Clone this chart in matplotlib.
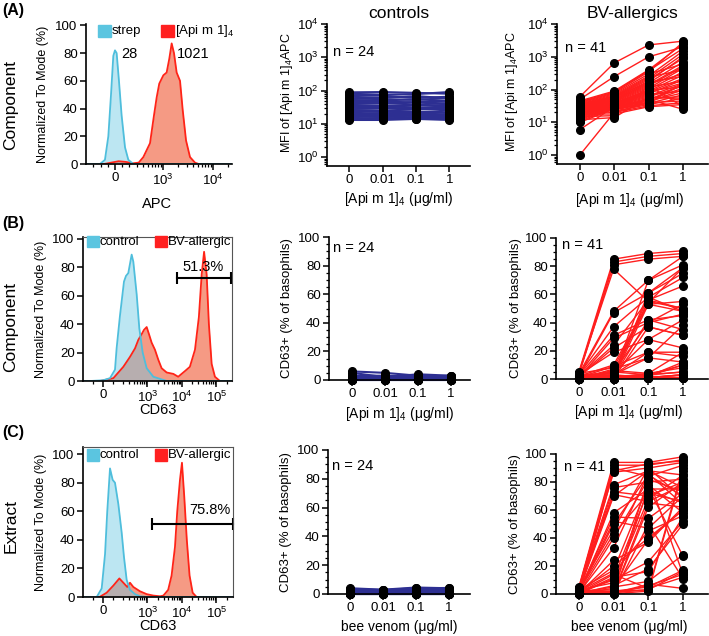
import matplotlib
matplotlib.use("Agg")
import matplotlib.pyplot as plt
from matplotlib.patches import Rectangle
from matplotlib.ticker import FixedLocator, MultipleLocator, LogLocator, NullFormatter

plt.rcParams['font.family'] = ['Liberation Sans', 'DejaVu Sans']
plt.rcParams['mathtext.fontset'] = 'custom'
plt.rcParams['mathtext.rm'] = 'Liberation Sans'
plt.rcParams['mathtext.it'] = 'Liberation Sans:italic'
plt.rcParams['mathtext.bf'] = 'Liberation Sans:bold'
plt.rcParams['font.size'] = 9

# ---- histogram data (fluorescence, % of mode) ----
A_strep_x = [-420, -208, -139, -92, -55, -23, 0, 23, 55, 92, 139, 185, 254, 24000]
A_strep_y = [0, 0, 3, 20, 50, 78, 82, 80, 60, 35, 12, 3, 0, 0]
A_api_x = [-420, -150, -50, 50, 150, 250, 330, 408, 555, 666, 754, 850, 1026, 1194, 1350,
           1504, 1674, 1893, 2210, 2500, 2915, 3500, 4400, 5200, 24000]
A_api_y = [0, 0, 1, 2, 1.5, 0.5, 1, 5, 15, 35, 48, 58, 64, 66, 76, 87, 80, 66, 60, 39, 17, 5, 1, 0, 0]

B_ctrl_x = [-197, -128, 0, 69, 118, 134, 167, 209, 239, 279, 349, 390, 488, 582, 728, 951, 1483, 3614, 283000]
B_ctrl_y = [0, 0, 0.5, 2, 8, 23, 46, 70, 74, 76, 89, 84, 61, 37, 20, 9, 3, 0, 0]
B_bv_x = [-197, -30, 102, 200, 312, 437, 545, 681, 794, 951, 1109, 1325, 1655, 2065, 2580, 3614,
          5650, 7800, 12270, 17000, 23900, 31000, 37400, 43900, 52100, 60500, 72800, 90600, 126000, 283000]
B_bv_y = [0, 0, 2, 10, 17, 23, 29, 33, 36, 38, 33, 27, 22, 15, 9, 6, 5, 3, 7, 10, 22, 45, 75, 91,
          75, 40, 12, 3, 0, 0]

C_ctrl_x = [-197, -62, -13, 20, 42, 69, 95, 118, 151, 184, 209, 250, 312, 437, 608, 951, 303000]
C_ctrl_y = [0, 0, 6, 30, 60, 90, 82, 80, 65, 45, 28, 12, 5, 2, 0.5, 0, 0]
C_bv_x = [-197, -34, 36, 102, 161, 200, 261, 312, 391, 608, 951, 1485, 2310, 2900, 4000, 5020,
          6290, 7330, 8790, 10040, 11720, 13870, 16680, 20500, 26700, 303000]
C_bv_y = [0, 0, 3, 8, 13, 10, 7, 10, 7, 4, 2, 1, 0.5, 1, 5, 15, 35, 60, 82, 94, 70, 40, 15, 3, 0, 0]

# ---- dose response data ----
doses = ['0', '0.01', '0.1', '1']
xpos = [0, 1, 2, 3]

ctrlA_0 = [88, 80, 72, 65, 58, 52, 47, 43, 40, 37, 34, 31, 28, 26, 24, 22, 20, 19, 18, 17, 16, 15, 14, 13]
ctrlA_001 = [90, 75, 70, 60, 55, 50, 46, 41, 42, 35, 33, 30, 29, 25, 23, 24, 21, 18, 19, 16, 17, 14, 15, 13]
ctrlA_01 = [85, 78, 60, 68, 52, 55, 44, 45, 38, 36, 35, 29, 30, 27, 22, 23, 20, 20, 17, 18, 15, 16, 14, 14]
ctrlA_1 = [80, 90, 65, 58, 60, 48, 50, 40, 42, 33, 37, 32, 27, 28, 25, 21, 22, 18, 19, 16, 17, 15, 14, 13]

bvA_0 = [60, 50, 45, 42, 40, 38, 36, 35, 33, 32, 31, 30, 29, 28, 27, 26, 25, 24, 23, 22, 21, 20, 19, 18,
         17, 16, 15, 14, 13, 12, 11, 10, 35, 30, 25, 22, 18, 15, 12, 6, 1]
bvA_001 = [650, 250, 90, 85, 80, 75, 70, 65, 62, 60, 58, 55, 52, 50, 48, 46, 44, 42, 40, 38, 37, 36, 35,
           34, 33, 32, 31, 30, 29, 28, 27, 26, 25, 24, 22, 20, 18, 16, 14, 30, 20]
bvA_01 = [2300, 1000, 400, 380, 350, 300, 260, 240, 220, 200, 180, 170, 160, 150, 140, 130, 120, 110, 100,
          95, 90, 85, 80, 75, 70, 65, 60, 55, 50, 48, 45, 42, 40, 38, 35, 32, 30, 130, 60, 50, 40]
bvA_1 = [3000, 2000, 2500, 1800, 2800, 600, 1500, 400, 1200, 900, 1000, 250, 700, 300, 550, 500, 180, 450,
         350, 120, 280, 220, 160, 200, 90, 150, 130, 60, 110, 140, 80, 100, 45, 70, 55, 40, 35, 30, 50, 25, 150]

ctrlB_0 = [6, 5, 3, 2.5, 2, 2, 1.8, 1.5, 1.5, 1.2, 1, 1, 0.8, 0.8, 0.6, 0.5, 0.5, 0.4, 0.3, 0.3, 0.2, 0.2, 0.1, 0.1]
ctrlB_001 = [5, 2, 3, 2.5, 1.8, 2, 1.5, 1.5, 1.2, 1.0, 1, 0.8, 0.8, 0.6, 0.5, 0.5, 0.4, 0.4, 0.3, 0.2, 0.2, 0.1, 0.1, 0.1]
ctrlB_01 = [3, 4, 2.5, 2, 2, 1.5, 1.8, 1.2, 1.0, 1.0, 0.8, 0.8, 0.6, 0.5, 0.5, 0.4, 0.4, 0.3, 0.3, 0.2, 0.2, 0.1, 0.1, 0.1]
ctrlB_1 = [2, 3, 3, 2.5, 1.8, 1.5, 1.5, 1.2, 1.0, 1.0, 0.8, 0.6, 0.6, 0.5, 0.5, 0.4, 0.3, 0.3, 0.2, 0.2, 0.1, 0.1, 0.1, 0.1]

bvB_0 = [5, 4, 3, 4.5, 3.5, 2, 3, 2.5, 1, 2, 1.5, 3, 2, 1, 4, 0.5, 1, 2, 0.5, 1.5, 3, 0.5, 1, 2, 0.3,
         2.5, 3.5, 0.2, 1.5, 1, 0.3, 2, 1, 0.5, 0.8, 0.2, 0.5, 1.2, 0.3, 0.6, 0.1]
bvB_001 = [85, 83, 81, 78, 48, 47, 37, 31, 29, 24, 22, 19, 10, 9, 8, 7, 6, 5, 5, 4, 4, 3, 3, 3, 2, 2, 2,
           1.5, 1.5, 1, 1, 1, 0.8, 0.8, 0.5, 0.5, 0.5, 0.3, 0.3, 0.2, 0.1]
bvB_01 = [89, 87, 85, 55, 70, 61, 58, 42, 40, 56, 37, 28, 54, 19, 53, 15, 4, 40, 3, 28, 58, 1, 19, 15, 3,
          56, 70, 2, 42, 4, 1, 61, 53, 2, 3, 1, 0.5, 37, 1, 2, 0.5]
bvB_1 = [91, 89, 87, 50, 81, 75, 72, 35, 46, 66, 31, 22, 79, 16, 55, 12, 8, 53, 5, 42, 48, 3, 19, 38, 10,
         50, 87, 1, 45, 19, 3, 79, 48, 10, 5, 1, 1, 31, 3, 12, 1]

ctrlC_0 = [4, 3.5, 3, 2.5, 2.2, 2, 1.8, 1.5, 1.3, 1.2, 1, 1, 0.8, 0.7, 0.6, 0.5, 0.5, 0.4, 0.3, 0.3, 0.2, 0.2, 0.1, 0.1]
ctrlC_001 = [3, 2.8, 2.5, 2.2, 2, 1.8, 1.5, 1.5, 1.2, 1, 1, 0.8, 0.8, 0.6, 0.5, 0.5, 0.4, 0.4, 0.3, 0.2, 0.2, 0.1, 0.1, 0.1]
ctrlC_01 = [4.5, 4, 3.5, 3, 2.5, 2.2, 2, 1.8, 1.5, 1.2, 1, 1, 0.8, 0.8, 0.6, 0.5, 0.5, 0.4, 0.3, 0.3, 0.2, 0.2, 0.1, 0.1]
ctrlC_1 = [4, 4.2, 3.5, 3, 2.5, 2.2, 2, 1.8, 1.5, 1.2, 1, 1, 0.8, 0.7, 0.6, 0.5, 0.5, 0.4, 0.3, 0.3, 0.2, 0.2, 0.1, 0.1]

bvC_0 = [5, 4, 4.5, 3, 3.5, 2, 2.5, 3, 1, 2, 1.5, 4, 2, 1, 0.5, 1, 3, 2, 0.5, 1.5, 3, 0.5, 1, 2, 0.3,
         2.5, 3.5, 0.2, 1.5, 1, 0.3, 2, 1, 0.5, 0.8, 0.2, 0.5, 1.2, 0.3, 0.6, 0.1]
bvC_001 = [94, 92, 90, 87, 78, 76, 73, 71, 58, 55, 52, 46, 43, 33, 24, 20, 17, 15, 12, 10, 8, 6, 5, 3, 2,
           1, 1, 0.5, 0.5, 0.3, 88, 70, 50, 40, 14, 11, 4, 2, 1, 0.5, 0.3]
bvC_01 = [94, 92, 84, 90, 88, 80, 70, 66, 75, 54, 47, 90, 72, 86, 37, 40, 78, 45, 16, 23, 68, 18, 9, 76, 5,
          83, 3, 50, 7, 62, 93, 88, 85, 82, 4, 74, 39, 3, 65, 6, 2]
bvC_1 = [98, 96, 92, 94, 85, 82, 80, 78, 75, 72, 70, 68, 66, 64, 62, 60, 58, 56, 55, 52, 85, 50, 28, 27,
         17, 14, 90, 11, 4, 80, 95, 76, 70, 73, 12, 65, 60, 16, 62, 14, 88]

NAVY = '#2D2F92'
RED = '#FF1E1E'
CYAN_LINE = '#4FBEDC'
CYAN_FILL = '#6CC8E4'
RED_LINE = '#FF2418'
RED_FILL = '#F59A84'

fig = plt.figure(figsize=(7.09, 6.36), dpi=100)


def add_ax(l, t, r, b):
    return fig.add_axes([l / 709, (636 - b) / 636, (r - l) / 709, (b - t) / 636])


def style(ax):
    for s in ax.spines.values():
        s.set_linewidth(1.2)
    ax.tick_params(which='major', width=1.1, length=4, pad=2, labelsize=9.5)
    ax.tick_params(which='minor', width=0.9, length=2.2)


def histo(ax, xb, yb, xr, yr, lt, ls, xlim, ytop, majors, labels, minors, frame):
    ax.set_xscale('symlog', linthresh=lt, linscale=ls)
    ax.fill_between(xr, yr, color=RED_FILL, lw=0)
    ax.plot(xr, yr, color=RED_LINE, lw=1.3)
    ax.fill_between(xb, yb, color=CYAN_FILL, alpha=0.45, lw=0)
    ax.plot(xb, yb, color=CYAN_LINE, lw=1.3)
    ax.set_xlim(xlim)
    ax.set_ylim(0, ytop)
    ax.set_yticks([0, 20, 40, 60, 80, 100])
    ax.xaxis.set_major_locator(FixedLocator(majors))
    ax.set_xticklabels(labels)
    ax.xaxis.set_minor_locator(FixedLocator(minors))
    ax.xaxis.set_minor_formatter(NullFormatter())
    style(ax)
    if frame:
        for s in ['top', 'right']:
            ax.spines[s].set_color('#555555')
            ax.spines[s].set_linewidth(0.8)
    else:
        ax.spines['top'].set_visible(False)
        ax.spines['right'].set_visible(False)
    ax.set_ylabel('Normalized To Mode (%)', fontsize=9)


def legend_boxes(ax, xs, y, w, h, colors, texts):
    for x0, c, t in zip(xs, colors, texts):
        ax.add_patch(Rectangle((x0, y), w, h, transform=ax.transAxes, color=c,
                               clip_on=False, zorder=5))
        ax.text(x0 + w + 0.006, y + h / 2, t, transform=ax.transAxes, fontsize=9.5,
                va='center', ha='left', zorder=5)


def spag(ax, rows, color, lw):
    for vals in zip(*rows):
        ax.plot(xpos, vals, color=color, lw=lw, zorder=2, clip_on=False)
    for i, col in enumerate(rows):
        ax.plot([xpos[i]] * len(col), col, 'o', color='black', ms=5.5, zorder=3, clip_on=False)
    ax.spines['top'].set_visible(False)
    ax.spines['right'].set_visible(False)
    ax.set_xticks(xpos)
    ax.set_xticklabels(doses)
    style(ax)


def lin_y(ax):
    ax.set_ylim(0, 100)
    ax.set_yticks([0, 20, 40, 60, 80, 100])
    ax.yaxis.set_minor_locator(MultipleLocator(5))


def log_y(ax):
    ax.set_yscale('log')
    ax.set_ylim(10 ** -0.27, 1e4)
    ax.yaxis.set_major_locator(LogLocator(base=10, numticks=10))
    ax.yaxis.set_minor_locator(LogLocator(base=10, subs=[2, 3, 4, 5, 6, 7, 8, 9], numticks=10))
    ax.yaxis.set_minor_formatter(NullFormatter())


api_label = '[Api m 1]$_4$ (\u03bcg/ml)'
cd63_label = 'CD63+ (% of basophils)'

# ---------------- row A ----------------
hA = add_ax(86, 24, 232, 164)
histo(hA, A_strep_x, A_strep_y, A_api_x, A_api_y, 300, 0.39, (-420, 24200), 101,
      [0, 1e3, 1e4], ['0', r'$\mathdefault{10^{3}}$', r'$\mathdefault{10^{4}}$'],
      [-300, -200, -100, 100, 200, 300, 400, 500, 600, 700, 800, 900,
       2000, 3000, 4000, 5000, 6000, 7000, 8000, 9000, 20000], False)
hA.set_xlabel('APC', fontsize=10.5)
hA.xaxis.set_label_coords(0.486, -0.237)
hA.yaxis.set_label_coords(-0.252, 0.5)
legend_boxes(hA, [0.082, 0.514], 0.905, 0.089, 0.086, ['#5BC5E0', '#FF2020'],
             ['strep', '[Api m 1]$_4$'])
hA.text(83, 79, '28', fontsize=10.5, va='center')
hA.text(1926, 79, '1021', fontsize=10.5, va='center')

mA = add_ax(327, 24, 470, 166)
spag(mA, [ctrlA_0, ctrlA_001, ctrlA_01, ctrlA_1], NAVY, 1.5)
log_y(mA)
mA.set_xlim(-0.67, 3.62)
mA.set_ylabel('MFI of [Api m 1]$_4$APC', fontsize=9)
mA.yaxis.set_label_coords(-0.221, 0.52)
mA.set_xlabel(api_label, fontsize=10)
mA.xaxis.set_label_coords(0.5, -0.17)
mA.text(0.04, 0.80, 'n = 24', transform=mA.transAxes, fontsize=10.5, va='center')
mA.set_title('controls', fontsize=12.5, pad=4)

rA = add_ax(557, 24, 708, 164)
spag(rA, [bvA_0, bvA_001, bvA_01, bvA_1], RED, 1.0)
log_y(rA)
rA.set_xlim(-0.66, 3.72)
rA.set_ylabel('MFI of [Api m 1]$_4$APC', fontsize=9)
rA.yaxis.set_label_coords(-0.244, 0.52)
rA.set_xlabel(api_label, fontsize=10)
rA.xaxis.set_label_coords(0.48, -0.193)
rA.text(0.05, 0.83, 'n = 41', transform=rA.transAxes, fontsize=10.5, va='center')
rA.set_title('BV-allergics', fontsize=12.5, pad=4)

# ---------------- row B ----------------
hB = add_ax(83, 237, 232, 381)
histo(hB, B_ctrl_x, B_ctrl_y, B_bv_x, B_bv_y, 200, 0.53, (-197, 283000), 101.4,
      [0, 1e3, 1e4, 1e5], ['0', r'$\mathdefault{10^{3}}$', r'$\mathdefault{10^{4}}$', r'$\mathdefault{10^{5}}$'],
      [-100, 100, 200, 300, 400, 500, 600, 700, 800, 900, 2000, 3000, 4000, 5000, 6000, 7000, 8000, 9000,
       20000, 30000, 40000, 50000, 60000, 70000, 80000, 90000, 200000], True)
hB.set_xlabel('CD63', fontsize=10.5)
hB.xaxis.set_label_coords(0.5, -0.152)
hB.yaxis.set_label_coords(-0.243, 0.5)
legend_boxes(hB, [0.027, 0.483], 0.93, 0.08, 0.076, ['#5BC5E0', '#FF2020'], ['control', 'BV-allergic'])
hB.plot([7080, 264000], [72.5, 72.5], color='black', lw=1.5, marker='|', ms=8, mew=1.5, clip_on=False)
hB.text(40800, 80.6, '51.3%', fontsize=10.5, ha='center', va='center')

mB = add_ax(329, 237, 470, 380)
spag(mB, [ctrlB_0, ctrlB_001, ctrlB_01, ctrlB_1], NAVY, 1.5)
lin_y(mB)
mB.set_xlim(-0.7, 3.58)
mB.set_ylabel(cd63_label, fontsize=9.5)
mB.yaxis.set_label_coords(-0.255, 0.5)
mB.set_xlabel(api_label, fontsize=10)
mB.xaxis.set_label_coords(0.5, -0.172)
mB.text(0.03, 0.92, 'n = 24', transform=mB.transAxes, fontsize=10.5, va='center')

rB = add_ax(556, 238, 708, 379)
spag(rB, [bvB_0, bvB_001, bvB_01, bvB_1], RED, 1.0)
lin_y(rB)
rB.set_xlim(-0.66, 3.72)
rB.set_ylabel(cd63_label, fontsize=9.5)
rB.yaxis.set_label_coords(-0.224, 0.5)
rB.set_xlabel(api_label, fontsize=10)
rB.xaxis.set_label_coords(0.48, -0.172)
rB.text(0.04, 0.95, 'n = 41', transform=rB.transAxes, fontsize=10.5, va='center')

# ---------------- row C ----------------
hC = add_ax(83, 447, 233, 597)
histo(hC, C_ctrl_x, C_ctrl_y, C_bv_x, C_bv_y, 200, 0.53, (-197, 303000), 105,
      [0, 1e3, 1e4, 1e5], ['0', r'$\mathdefault{10^{3}}$', r'$\mathdefault{10^{4}}$', r'$\mathdefault{10^{5}}$'],
      [-100, 100, 200, 300, 400, 500, 600, 700, 800, 900, 2000, 3000, 4000, 5000, 6000, 7000, 8000, 9000,
       20000, 30000, 40000, 50000, 60000, 70000, 80000, 90000, 200000], True)
hC.set_xlabel('CD63', fontsize=10.5)
hC.xaxis.set_label_coords(0.5, -0.147)
hC.yaxis.set_label_coords(-0.243, 0.5)
legend_boxes(hC, [0.027, 0.48], 0.907, 0.08, 0.08, ['#5BC5E0', '#FF2020'], ['control', 'BV-allergic'])
hC.plot([1350, 300000], [51, 51], color='black', lw=1.5, marker='|', ms=8, mew=1.5, clip_on=False)
hC.text(64700, 61, '75.8%', fontsize=10.5, ha='center', va='center')

mC = add_ax(328, 450, 470, 594)
spag(mC, [ctrlC_0, ctrlC_001, ctrlC_01, ctrlC_1], NAVY, 1.5)
lin_y(mC)
mC.set_xlim(-0.67, 3.64)
mC.set_ylabel(cd63_label, fontsize=9.5)
mC.yaxis.set_label_coords(-0.251, 0.5)
mC.set_xlabel('bee venom (\u03bcg/ml)', fontsize=10)
mC.xaxis.set_label_coords(0.5, -0.18)
mC.text(0.03, 0.89, 'n = 24', transform=mC.transAxes, fontsize=10.5, va='center')

rC = add_ax(556, 454, 708, 594)
spag(rC, [bvC_0, bvC_001, bvC_01, bvC_1], RED, 1.0)
lin_y(rC)
rC.set_xlim(-0.66, 3.72)
rC.set_ylabel(cd63_label, fontsize=9.5)
rC.yaxis.set_label_coords(-0.229, 0.5)
rC.set_xlabel('bee venom (\u03bcg/ml)', fontsize=10)
rC.xaxis.set_label_coords(0.48, -0.184)
rC.text(0.05, 0.91, 'n = 41', transform=rC.transAxes, fontsize=10.5, va='center')

# row and panel labels
for lab, y in [('(A)', 11), ('(B)', 224), ('(C)', 433)]:
    fig.text(2 / 709, 1 - y / 636, lab, fontsize=11.5, fontweight='bold', va='center', ha='left')
for lab, y in [('Component', 105), ('Component', 327), ('Extract', 526)]:
    fig.text(11 / 709, 1 - y / 636, lab, fontsize=12.5, rotation=90, va='center', ha='center')

fig.savefig('out.png', dpi=100)
